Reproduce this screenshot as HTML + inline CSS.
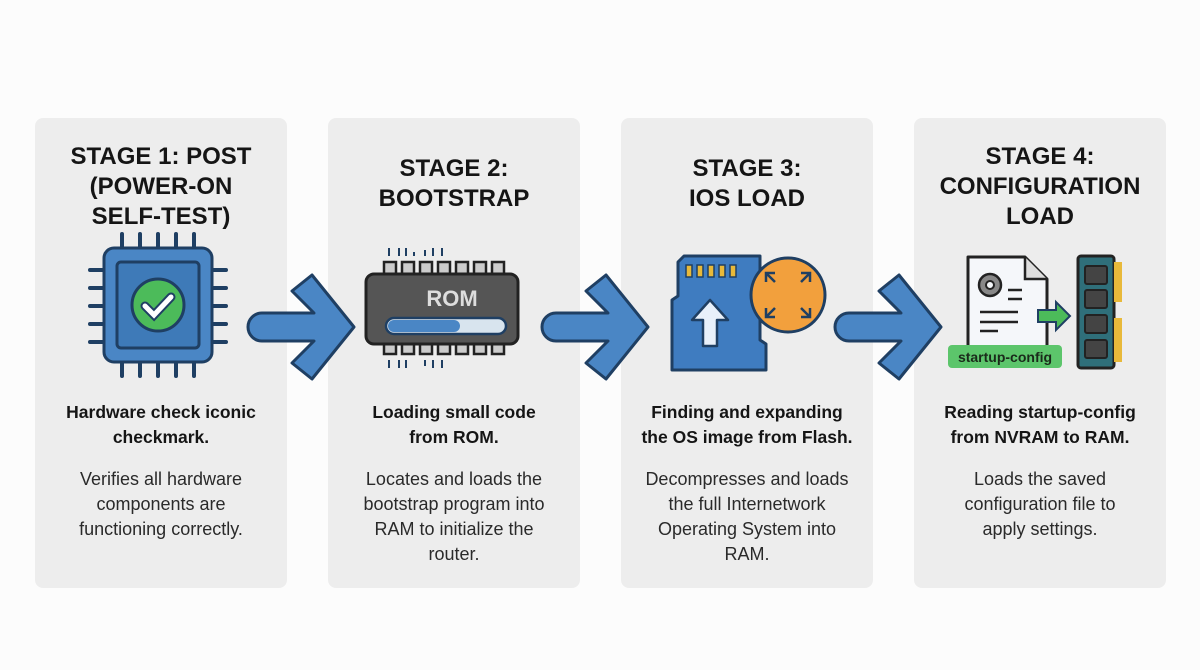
<!DOCTYPE html>
<html><head><meta charset="utf-8"><style>
body{margin:0;width:1200px;height:670px;background:#fcfcfc;font-family:"Liberation Sans",Arial,sans-serif;position:relative;overflow:hidden}
.p{position:absolute;top:118px;width:252px;height:470px;background:#ededed;border-radius:8px}
.t{position:absolute;left:0;width:100%;text-align:center;font-weight:bold;font-size:24px;line-height:30px;color:#151515}
.s{position:absolute;top:282px;left:0;width:100%;text-align:center;font-weight:bold;font-size:17.5px;line-height:25px;color:#151515}
.b{position:absolute;top:349px;left:0;width:252px;text-align:center;font-size:18px;line-height:25px;color:#2a2a2a;white-space:nowrap}
svg{position:absolute;left:0;top:0}
</style></head><body>
<div class="p" style="left:35px"><div class="t" style="top:24px">STAGE 1: POST<br>(POWER-ON<br>SELF-TEST)</div><div class="s">Hardware check iconic<br>checkmark.</div><div class="b">Verifies all hardware<br>components are<br>functioning correctly.</div></div>
<div class="p" style="left:328px"><div class="t" style="top:36px">STAGE 2:<br>BOOTSTRAP</div><div class="s">Loading small code<br>from ROM.</div><div class="b">Locates and loads the<br>bootstrap program into<br>RAM to initialize the<br>router.</div></div>
<div class="p" style="left:621px"><div class="t" style="top:36px">STAGE 3:<br>IOS LOAD</div><div class="s">Finding and expanding<br>the OS image from Flash.</div><div class="b">Decompresses and loads<br>the full Internetwork<br>Operating System into<br>RAM.</div></div>
<div class="p" style="left:914px"><div class="t" style="top:24px">STAGE 4:<br>CONFIGURATION<br>LOAD</div><div class="s">Reading startup-config<br>from NVRAM to RAM.</div><div class="b">Loads the saved<br>configuration file to<br>apply settings.</div></div>
<svg width="1200" height="670" viewBox="0 0 1200 670">
<defs><g id="arr"><path d="M0,-14 H52 L30,-36 L50,-52 L92,0 L50,52 L30,36 L52,14 H0 A14,14 0 0 1 0,-14Z" fill="#4a86c5" stroke="#1f3f63" stroke-width="3" stroke-linejoin="round"/></g></defs>
<use href="#arr" x="262" y="327"/><use href="#arr" x="556" y="327"/><use href="#arr" x="849" y="327"/>
<g stroke="#1f3f63" stroke-width="4" stroke-linecap="round">
<path d="M122,248v-14M140,248v-14M158,248v-14M176,248v-14M194,248v-14M122,362v14M140,362v14M158,362v14M176,362v14M194,362v14M104,270h-14M104,288h-14M104,306h-14M104,324h-14M104,342h-14M212,270h14M212,288h14M212,306h14M212,324h14M212,342h14"/></g>
<rect x="104" y="248" width="108" height="114" rx="10" fill="#4a86c5" stroke="#1f3f63" stroke-width="3"/>
<rect x="117" y="262" width="82" height="86" rx="4" fill="#3e7ab8" stroke="#1f3f63" stroke-width="3"/>
<circle cx="158" cy="305" r="26" fill="#4cbb5a" stroke="#1f3f63" stroke-width="3"/>
<path d="M145,306l9,9 17,-18" stroke="#1f3f63" stroke-width="9" fill="none" stroke-linecap="round"/>
<path d="M145,306l9,9 17,-18" stroke="#fff" stroke-width="5" fill="none" stroke-linecap="round"/>
<g stroke="#1f3f63" stroke-width="2"><path d="M389,248v8M399,248v8M406,248v8M414,252v4M425,250v6M433,248v8M442,248v8M389,360v8M399,360v8M406,360v8M425,360v6M433,360v8M442,360v8"/></g>
<g fill="#ccc" stroke="#222" stroke-width="2.5"><rect x="384" y="262" width="12" height="14"/><rect x="402" y="262" width="12" height="14"/><rect x="420" y="262" width="12" height="14"/><rect x="438" y="262" width="12" height="14"/><rect x="456" y="262" width="12" height="14"/><rect x="474" y="262" width="12" height="14"/><rect x="492" y="262" width="12" height="14"/><rect x="384" y="340" width="12" height="14"/><rect x="402" y="340" width="12" height="14"/><rect x="420" y="340" width="12" height="14"/><rect x="438" y="340" width="12" height="14"/><rect x="456" y="340" width="12" height="14"/><rect x="474" y="340" width="12" height="14"/><rect x="492" y="340" width="12" height="14"/></g>
<rect x="366" y="274" width="152" height="70" rx="8" fill="#555" stroke="#222" stroke-width="3"/>
<text x="452" y="306" text-anchor="middle" font-weight="bold" font-size="22" fill="#ddd">ROM</text>
<rect x="386" y="318" width="120" height="16" rx="8" fill="#d8e4ee" stroke="#1f3f63" stroke-width="2.5"/>
<rect x="388" y="320" width="72" height="12" rx="6" fill="#4a86c5"/>
<path d="M684,256 H760 V340 l6,4 V370 H672 V300 l6,-4 V262Z" fill="#3f7cc0" stroke="#1f3f63" stroke-width="3" stroke-linejoin="round"/>
<g fill="#e8b93a" stroke="#1f3f63" stroke-width="1.5"><rect x="686" y="265" width="6" height="12"/><rect x="697" y="265" width="6" height="12"/><rect x="708" y="265" width="6" height="12"/><rect x="719" y="265" width="6" height="12"/><rect x="730" y="265" width="6" height="12"/></g>
<path d="M710,300 l-18,20 h11 v26 h14 v-26 h11Z" fill="#e8f0fa" stroke="#1f3f63" stroke-width="2.5" stroke-linejoin="round"/>
<circle cx="788" cy="295" r="37" fill="#f2a03d" stroke="#1f3f63" stroke-width="3"/>
<g stroke="#1f3f63" stroke-width="2.5" fill="none"><path d="M775,282l-9,-9m0,9v-9h9M801,282l9,-9m0,9v-9h-9M775,308l-9,9m0,-9v9h9M801,308l9,9m0,-9v9h-9"/></g>
<path d="M968,257 H1025 L1047,279 V347 H968Z" fill="#f5f7fa" stroke="#222" stroke-width="3" stroke-linejoin="round"/>
<path d="M1025,257 V279 H1047" fill="#ddd" stroke="#222" stroke-width="2.5"/>
<circle cx="990" cy="285" r="11" fill="#888" stroke="#222" stroke-width="2.5"/><circle cx="990" cy="285" r="4" fill="#f5f7fa" stroke="#222" stroke-width="2"/>
<g stroke="#222" stroke-width="2.5"><path d="M1008,290h14M1008,299h14M980,312h38M980,322h38M980,331h18"/></g>
<path d="M1038,310 h18 v-8 l14,14 -14,14 v-8 h-18Z" fill="#4cbb5a" stroke="#1f3f63" stroke-width="2"/>
<rect x="948" y="345" width="114" height="23" rx="4" fill="#5cc56b"/>
<text x="1005" y="362" text-anchor="middle" font-weight="bold" font-size="14" fill="#1a2a1a">startup-config</text>
<rect x="1078" y="256" width="36" height="112" rx="3" fill="#2f6f7a" stroke="#222" stroke-width="3"/>
<g fill="#e8b93a"><rect x="1114" y="262" width="8" height="40"/><rect x="1114" y="318" width="8" height="44"/></g>
<g fill="#444" stroke="#222" stroke-width="2"><rect x="1085" y="266" width="22" height="18" rx="2"/><rect x="1085" y="290" width="22" height="18" rx="2"/><rect x="1085" y="315" width="22" height="18" rx="2"/><rect x="1085" y="340" width="22" height="18" rx="2"/></g>
</svg>
</body></html>
